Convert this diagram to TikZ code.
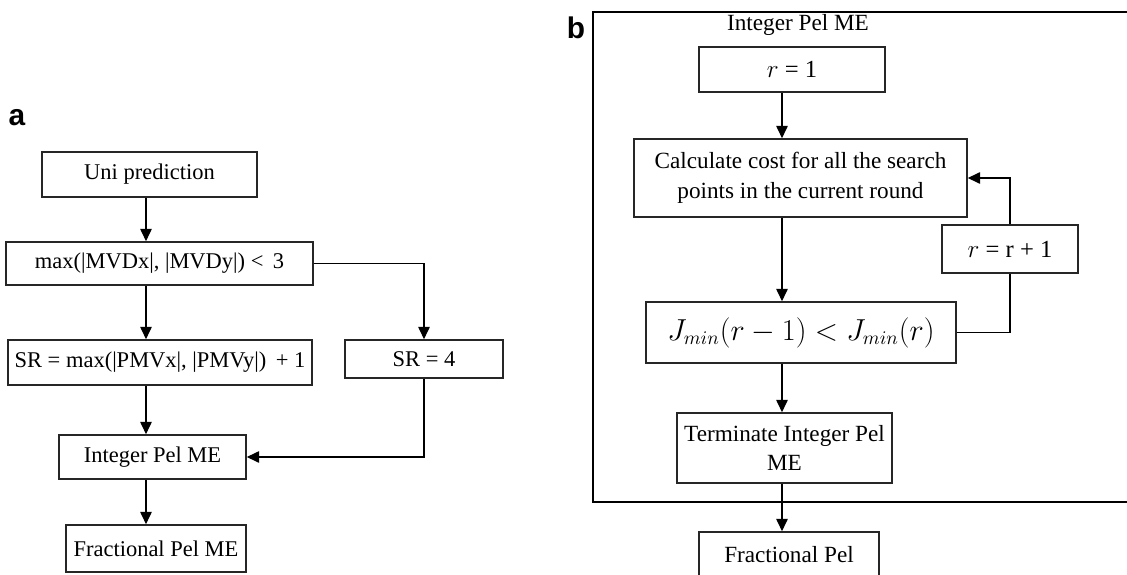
\documentclass[tikz,border=0pt]{standalone}
\usepackage{fontspec}
\setmainfont{Liberation Serif}
\newfontfamily\panelfont{Liberation Sans}
\usetikzlibrary{arrows.meta}

\begin{document}
\begin{tikzpicture}[x=0.02cm,y=-0.02cm,font=\fontsize{12.8}{14}\selectfont,line join=miter,
  box/.style={draw=black!85,line width=0.9pt,rectangle,inner sep=2pt,align=center},
  flow/.style={-{Triangle[length=7pt,width=6.5pt]},line width=0.75pt},
  link/.style={line width=0.75pt},
  panel/.style={font=\panelfont\bfseries\fontsize{17}{17}\selectfont}]
\useasboundingbox (0,0) rectangle (1127,575);
\clip (0,0) rectangle (1127,575);
% panel a
\node[panel] (labA) at (17,118) {a};
\coordinate (colA) at (146,0);
\node[box,minimum width=4.30cm,minimum height=0.90cm] (uni) at (149.5,174.5) {Uni prediction};
\node[box,minimum width=6.14cm,minimum height=0.86cm] (maxd) at (159.5,263.5) {max(|MVDx|, |MVDy|) <\, 3};
\node[box,minimum width=6.08cm,minimum height=0.90cm] (srmax) at (160,362.5) {SR = max(|PMVx|, |PMVy|) \,+ 1};
\node[box,minimum width=3.16cm,minimum height=0.76cm] (srfour) at (424,359) {SR = 4};
\node[box,minimum width=3.74cm,minimum height=0.88cm] (intme) at (152.5,457) {Integer Pel ME};
\node[box,minimum width=3.60cm,minimum height=0.94cm] (fracme) at (156,548.5) {Fractional Pel ME};
\draw[flow] (uni.south -| colA) -- (maxd.north -| colA);
\draw[flow] (maxd.south -| colA) -- (srmax.north -| colA);
\draw[flow] (srmax.south -| colA) -- (intme.north -| colA);
\draw[flow] (intme.south -| colA) -- (fracme.north -| colA);
\draw[flow] (maxd.east) -| (srfour.north);
\draw[flow] (srfour.south) |- (intme.east);
% panel b
\node[panel] (labB) at (576,28) {b};
\draw[link,line width=1pt] (1127,12) -- (593,12) -- (593,502) -- (1127,502);
\coordinate (colB) at (782,0);
\node[font=\fontsize{13.2}{15}\selectfont] (title) at (798,25) {Integer Pel ME};
\node[box,minimum width=3.72cm,minimum height=0.90cm,font=\fontsize{14}{16}\selectfont] (rone) at (792,69.5) {$r$ = 1};
\node[box,minimum width=6.66cm,minimum height=1.56cm,font=\fontsize{13.2}{17}\selectfont] (calc) at (800.5,178) {Calculate cost for all the search\\points in the current round};
\node[box,minimum width=6.20cm,minimum height=1.22cm,font=\fontsize{16}{18}\selectfont] (jcmp) at (801,332.5) {$J_{min}(r-1) < J_{min}(r)$};
\node[box,minimum width=2.72cm,minimum height=0.96cm,font=\fontsize{14}{16}\selectfont] (rinc) at (1010,249) {$r$ = r + 1};
\node[box,minimum width=4.30cm,minimum height=1.40cm,font=\fontsize{13.2}{17}\selectfont] (term) at (784.5,448) {Terminate Integer Pel\\ME};
\node[box,minimum width=3.60cm,minimum height=0.90cm,font=\fontsize{13.2}{15}\selectfont] (fracb) at (789,554.5) {Fractional Pel};
\draw[flow] (rone.south -| colB) -- (calc.north -| colB);
\draw[flow] (calc.south -| colB) -- (jcmp.north -| colB);
\draw[flow] (jcmp.south -| colB) -- (term.north -| colB);
\draw[flow] (term.south -| colB) -- (fracb.north -| colB);
\draw[link] (jcmp.east) -| (rinc.south);
\draw[flow] (rinc.north) |- (calc.east);
\end{tikzpicture}
\end{document}
